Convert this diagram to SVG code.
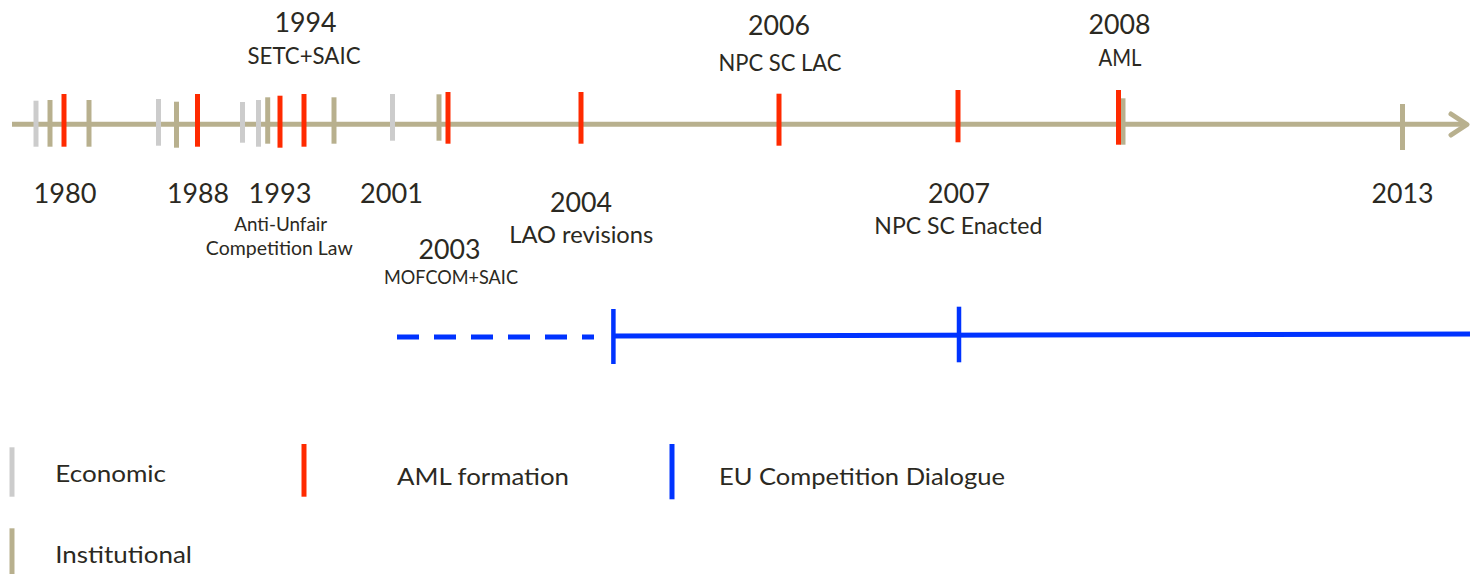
<svg xmlns="http://www.w3.org/2000/svg" width="1470" height="574" viewBox="0 0 1470 574">
<style>
text{font-family:Lato,"Open Sans","Liberation Sans",sans-serif;fill:#2b2922;}
.yr{font-size:27px;text-anchor:middle;}
.sub{font-size:23px;text-anchor:middle;}
.sm{font-size:20px;text-anchor:middle;}
.xs{font-size:19px;text-anchor:middle;}
.lg{font-size:23px;}
.t{stroke-width:5;fill:none;}
.eco{stroke:#cccccc;}
.ins{stroke:#b8b08e;}
.aml{stroke:#ff2a00;}
.eu{stroke:#0033ff;}
</style>
<rect width="1470" height="574" fill="#ffffff"/>
<g id="connectors">
<g id="axis">
<line x1="12" y1="124.3" x2="1464" y2="124.3" class="t ins"/>
<polyline points="1451,114 1467,124.5 1451,135" class="t ins" stroke-linecap="round" stroke-linejoin="round"/>
</g>
<g id="eu-line">
<line x1="397" y1="337" x2="594" y2="337" class="t eu" stroke-dasharray="22 15"/>
<line x1="613" y1="336" x2="1470" y2="334" class="t eu"/>
<line x1="613.4" y1="309" x2="613.4" y2="364" class="eu" stroke-width="4.5"/>
<line x1="959" y1="306.7" x2="959" y2="362.3" class="eu" stroke-width="4.5"/>
</g>
</g>
<g id="ticks">
<g id="economic-ticks" class="t eco">
<line x1="36" y1="100.7" x2="36" y2="146.7"/>
<line x1="158.5" y1="99" x2="158.5" y2="145.7"/>
<line x1="242.5" y1="102" x2="242.5" y2="142.7"/>
<line x1="258.5" y1="100" x2="258.5" y2="146.7"/>
<line x1="392.5" y1="94" x2="392.5" y2="140.7"/>
</g>
<g id="institutional-ticks" class="t ins">
<line x1="50" y1="100" x2="50" y2="146.7"/>
<line x1="89" y1="100" x2="89" y2="146.7"/>
<line x1="176.5" y1="101.7" x2="176.5" y2="147.7"/>
<line x1="267.7" y1="97.3" x2="267.7" y2="143.7"/>
<line x1="334" y1="97.3" x2="334" y2="143.7"/>
<line x1="439" y1="94.3" x2="439" y2="140.7"/>
<line x1="1123" y1="98.3" x2="1123" y2="144.7"/>
<line x1="1402.5" y1="104" x2="1402.5" y2="150"/>
</g>
<g id="aml-ticks" class="t aml">
<line x1="64" y1="94" x2="64" y2="146.7"/>
<line x1="197.5" y1="94" x2="197.5" y2="146.7"/>
<line x1="280" y1="95.7" x2="280" y2="147.7"/>
<line x1="304" y1="94" x2="304" y2="146.7"/>
<line x1="448" y1="92" x2="448" y2="143.7"/>
<line x1="581" y1="92" x2="581" y2="143.7"/>
<line x1="779" y1="93.7" x2="779" y2="145.7"/>
<line x1="958" y1="90" x2="958" y2="142.3"/>
<line x1="1118.5" y1="90" x2="1118.5" y2="144.7"/>
</g>
</g>
<g id="e1980"><text class="yr" x="65" y="203.3" textLength="63" lengthAdjust="spacingAndGlyphs">1980</text></g>
<g id="e1988"><text class="yr" x="198" y="203.3" textLength="62" lengthAdjust="spacingAndGlyphs">1988</text></g>
<g id="e1993"><text class="yr" x="280" y="203.3" textLength="63" lengthAdjust="spacingAndGlyphs">1993</text>
<text class="sm" x="280.7" y="231" textLength="93" lengthAdjust="spacingAndGlyphs">Anti-Unfair</text>
<text class="sm" x="279.3" y="255" textLength="147" lengthAdjust="spacingAndGlyphs">Competition Law</text></g>
<g id="e1994"><text class="yr" x="305.5" y="32" textLength="62" lengthAdjust="spacingAndGlyphs">1994</text>
<text class="sub" x="304" y="63.5" textLength="113" lengthAdjust="spacingAndGlyphs">SETC+SAIC</text></g>
<g id="e2001"><text class="yr" x="391.4" y="203.3" textLength="63" lengthAdjust="spacingAndGlyphs">2001</text></g>
<g id="e2003"><text class="yr" x="449.4" y="259" textLength="62" lengthAdjust="spacingAndGlyphs">2003</text>
<text class="xs" x="451" y="284" textLength="134" lengthAdjust="spacingAndGlyphs">MOFCOM+SAIC</text></g>
<g id="e2004"><text class="yr" x="581" y="211.7" textLength="62" lengthAdjust="spacingAndGlyphs">2004</text>
<text class="sub" x="581.3" y="243.3" textLength="144" lengthAdjust="spacingAndGlyphs">LAO revisions</text></g>
<g id="e2006"><text class="yr" x="779" y="35" textLength="62" lengthAdjust="spacingAndGlyphs">2006</text>
<text class="sub" x="780" y="71" textLength="123" lengthAdjust="spacingAndGlyphs">NPC SC LAC</text></g>
<g id="e2007"><text class="yr" x="959" y="203.3" textLength="62" lengthAdjust="spacingAndGlyphs">2007</text>
<text class="sub" x="958.3" y="234.3" textLength="168" lengthAdjust="spacingAndGlyphs">NPC SC Enacted</text></g>
<g id="e2008"><text class="yr" x="1119.5" y="34" textLength="62" lengthAdjust="spacingAndGlyphs">2008</text>
<text class="sub" x="1120" y="66" textLength="43" lengthAdjust="spacingAndGlyphs">AML</text></g>
<g id="e2013"><text class="yr" x="1402.5" y="203.3" textLength="62" lengthAdjust="spacingAndGlyphs">2013</text></g>
<g id="legend">
<g id="legend-economic"><line x1="12" y1="447.3" x2="12" y2="496.7" class="t eco"/>
<text class="lg" x="55.3" y="481.7" textLength="110.7" lengthAdjust="spacingAndGlyphs">Economic</text></g>
<g id="legend-aml"><line x1="304" y1="444" x2="304" y2="496.7" class="t aml"/>
<text class="lg" x="397" y="485" textLength="172" lengthAdjust="spacingAndGlyphs">AML formation</text></g>
<g id="legend-eu"><line x1="672" y1="444" x2="672" y2="499.3" class="t eu"/>
<text class="lg" x="719" y="485" textLength="286" lengthAdjust="spacingAndGlyphs">EU Competition Dialogue</text></g>
<g id="legend-institutional"><line x1="12" y1="528.3" x2="12" y2="574" class="t ins"/>
<text class="lg" x="55.3" y="563" textLength="136.7" lengthAdjust="spacingAndGlyphs">Institutional</text></g>
</g>
</svg>
